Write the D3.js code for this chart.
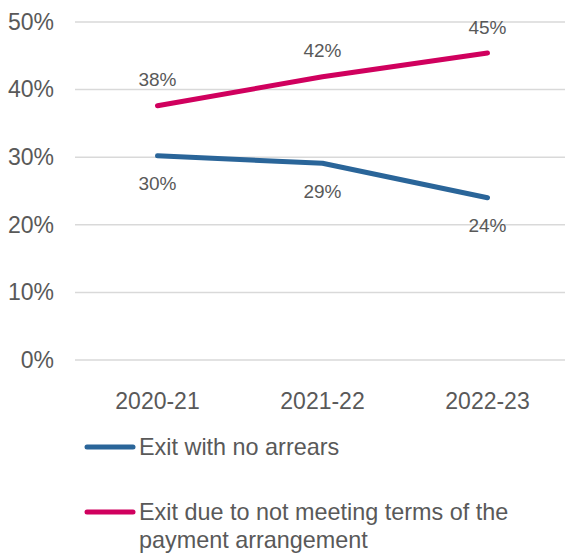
<!DOCTYPE html>
<html>
<head>
<meta charset="utf-8">
<script src="https://cdn.jsdelivr.net/npm/d3@7"></script>
<style>
  body { margin: 0; background: #fff; }
  svg { display: block; font-family: "Liberation Sans", Arial, sans-serif; }
</style>
</head>
<body>
<svg id="chart" width="565" height="553"></svg>
<script>
// Share of exits by type, per year
const years = ["2020-21", "2021-22", "2022-23"];
const noArrears = [0.302, 0.291, 0.240];
const notMeetingTerms = [0.376, 0.419, 0.454];
const yTicks = [0, 0.1, 0.2, 0.3, 0.4, 0.5];
const seriesNames = ["Exit with no arrears", "Exit due to not meeting terms of the payment arrangement"];
const seriesColors = ["#2A6599", "#D0005E"];

const svg = d3.select("#chart");
const textColor = "#595959";

const x = d3.scaleBand().domain(years).range([75, 570]);
const y = d3.scaleLinear().domain([0, 0.5]).range([360, 22]);
const pct = d3.format(".0%");

// gridlines
svg.append("g")
  .selectAll("line")
  .data(yTicks)
  .join("line")
  .attr("x1", 75).attr("x2", 565)
  .attr("y1", d => y(d)).attr("y2", d => y(d))
  .attr("stroke", "#d9d9d9").attr("stroke-width", 1.5);

// y axis labels
const yAxis = d3.axisLeft(y).tickValues(yTicks).tickFormat(pct).tickSize(0).tickPadding(0);
svg.append("g")
  .attr("transform", "translate(54,0)")
  .call(yAxis)
  .call(g => g.select(".domain").remove())
  .call(g => g.selectAll("text")
    .attr("fill", textColor).attr("font-size", 23)
    .attr("font-family", "Liberation Sans, Arial, sans-serif"));

// x axis labels
const xAxis = d3.axisBottom(x).tickSize(0).tickPadding(0);
svg.append("g")
  .attr("transform", "translate(0,392)")
  .call(xAxis)
  .call(g => g.select(".domain").remove())
  .call(g => g.selectAll("text")
    .attr("fill", textColor).attr("font-size", 23).attr("dy", "0.72em")
    .attr("font-family", "Liberation Sans, Arial, sans-serif"));

const series = [
  { name: seriesNames[0], values: noArrears, color: seriesColors[0], labelOffset: 28 },
  { name: seriesNames[1], values: notMeetingTerms, color: seriesColors[1], labelOffset: -26 }
];

const line = d3.line()
  .x((d, i) => x(years[i]) + x.bandwidth() / 2)
  .y(d => y(d));

series.forEach(s => {
  svg.append("path")
    .datum(s.values)
    .attr("d", line)
    .attr("fill", "none")
    .attr("stroke", s.color)
    .attr("stroke-width", 5)
    .attr("stroke-linecap", "round")
    .attr("stroke-linejoin", "round");

  svg.append("g")
    .selectAll("text")
    .data(s.values)
    .join("text")
    .attr("x", (d, i) => x(years[i]) + x.bandwidth() / 2)
    .attr("y", d => y(d) + s.labelOffset)
    .attr("dy", "0.35em")
    .attr("text-anchor", "middle")
    .attr("fill", textColor)
    .attr("font-size", 19)
    .text(d => pct(d));
});

// legend
const legend = svg.append("g");
const legendRows = [
  { lines: [seriesNames[0]], color: seriesColors[0], y: 447 },
  { lines: ["Exit due to not meeting terms of the", "payment arrangement"], color: seriesColors[1], y: 512 }
];
legendRows.forEach(r => {
  legend.append("line")
    .attr("x1", 87).attr("x2", 133)
    .attr("y1", r.y).attr("y2", r.y)
    .attr("stroke", r.color).attr("stroke-width", 5)
    .attr("stroke-linecap", "round");
  const t = legend.append("text")
    .attr("x", 139).attr("y", r.y)
    .attr("fill", textColor).attr("font-size", 23.4);
  r.lines.forEach((ln, i) => {
    t.append("tspan")
      .attr("x", 139)
      .attr("dy", i === 0 ? "0.35em" : 28)
      .text(ln);
  });
});
</script>
</body>
</html>
